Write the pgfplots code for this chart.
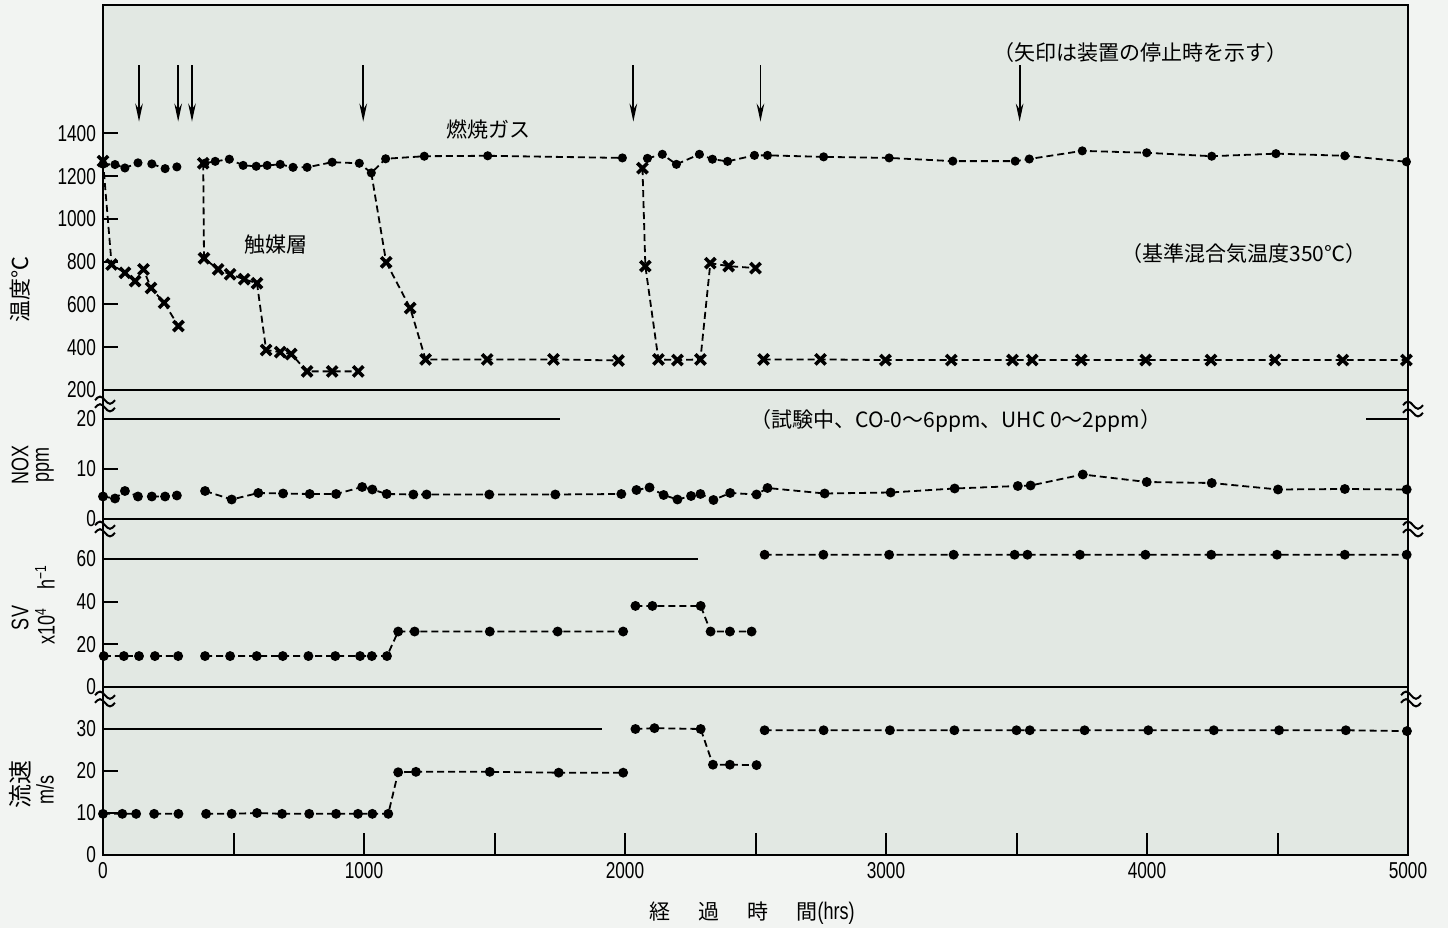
\documentclass[border=0pt]{standalone}
\usepackage{pgfplots}
\pgfplotsset{compat=1.18}
\usepackage{fontspec}
\setmainfont{Liberation Sans}
\newfontfamily\cnd{Liberation Sans}[FakeStretch=0.75]
\newfontfamily\cjk{Noto Sans CJK JP}
\usetikzlibrary{arrows.meta}
\definecolor{bgout}{RGB}{242,244,242}
\definecolor{bgin}{RGB}{226,232,227}
\tikzset{jp/.style={font=\cjk\fontsize{10.5}{12}\selectfont}}
\newcommand{\brk}[2]{\begin{scope}[shift={(#1pt,#2pt)}]
\draw[line width=1pt] (-5pt,2.4pt) sin (-2.5pt,4.2pt) cos (0pt,2.4pt) sin (2.5pt,0.6pt) cos (5pt,2.4pt);
\draw[line width=1pt] (-5pt,-1.4pt) sin (-2.5pt,0.4pt) cos (0pt,-1.4pt) sin (2.5pt,-3.2pt) cos (5pt,-1.4pt);
\end{scope}}
\begin{document}
\begin{tikzpicture}
\useasboundingbox (0pt,0pt) rectangle (724pt,464pt);
\fill[bgout] (0pt,0pt) rectangle (724pt,464pt);
\fill[bgin] (51.5pt,36.5pt) rectangle (704pt,461.5pt);
\pgfplotsset{
 panel/.style={scale only axis, width=652.5pt, xmin=0, xmax=5000, clip=false,
   axis line style={line width=1.2pt}, every tick/.style={black, line width=1pt},
   tick align=inside, tick pos=left, xtick=\empty, major tick length=7.5pt,
   yticklabel style={font=\cnd\fontsize{11.5}{12}\selectfont},
   xticklabel style={font=\cnd\fontsize{11.5}{12}\selectfont},
   /pgf/number format/1000 sep={}, /pgf/number format/assume math mode=true,
   unbounded coords=jump, anchor=south west},
 gas/.style={black, line width=0.9pt, dash pattern=on 3.5pt off 2pt, mark=*, mark size=1.8pt, mark options={solid}},
 cat/.style={black, line width=0.9pt, dash pattern=on 3.5pt off 2pt, mark=x, mark size=3.6pt, mark options={solid, line width=1.8pt}},
 dot/.style={black, line width=0.9pt, dash pattern=on 3.5pt off 2pt, mark=*, mark size=2pt, mark options={solid}},
}
% Panel 1: temperature
\begin{axis}[panel, at={(51.5pt,269pt)}, height=192.5pt, ymin=200, ymax=2000, ytick={200,400,...,1400}]
\addplot[gas] coordinates {(0,1256) (46,1254) (84,1238) (134,1262) (160,nan) (187,1257) (238,1235) (283,1243) (330,nan) (390,1260) (430,1269) (484,1279) (537,1250) (587,1246) (629,1250) (679,1255) (728,1241) (782,1241) (878,1265) (982,1260) (1028,1215) (1083,1281) (1231,1293) (1474,1295) (1990,1285) (2030,nan) (2086,1283) (2143,1302) (2197,1255) (2285,1302) (2335,1279) (2393,1269) (2496,1297) (2546,1297) (2761,1290) (3012,1285) (3256,1270) (3495,1270) (3549,1280) (3752,1318) (3999,1309) (4248,1293) (4494,1305) (4758,1295) (4994,1267)};
\addplot[black, line width=0.9pt, dash pattern=on 3.5pt off 2pt, no marks] coordinates {(1028,1215) (1085,797)};
\addplot[cat] coordinates {(0,1270) (33,787) (84,748) (123,709) (155,764) (184,677) (234,608) (289,499) (330,nan) (384,1260) (387,816) (441,764) (487,741) (541,718) (590,699) (625,387) (679,377) (721,368) (782,287) (878,287) (978,287) (1000,nan) (1085,797) (1177,583) (1236,343) (1472,343) (1726,343) (1975,338) (2030,nan) (2067,1237) (2078,779) (2128,343) (2201,340) (2289,343) (2327,793) (2397,779) (2500,770) (2520,nan) (2531,343) (2749,343) (2998,340) (3250,340) (3485,340) (3560,340) (3748,340) (3995,340) (4245,340) (4490,340) (4750,340) (4994,340)};
\foreach \t in {138,288,341,997,2032,2519,3512}{
  \edef\tmp{\noexpand\draw[-{Stealth[length=9pt,width=3.8pt]}, line width=0.9pt] (axis cs:\t,1719) -- (axis cs:\t,1455);}\tmp}
\node[jp] at (axis cs:1476,1416) {燃焼ガス};
\node[jp] at (axis cs:663,878) {触媒層};
\node[jp] at (axis cs:3976,1780) {（矢印は装置の停止時を示す）};
\node[jp] at (axis cs:4371,840) {（基準混合気温度350℃）};
\end{axis}
% Panel 2: NOX
\begin{axis}[panel, at={(51.5pt,204.5pt)}, height=64.5pt, ymin=0, ymax=25.8, ytick={0,10,20}]
\addplot[dot] coordinates {(0,4.5) (46,4.1) (84,5.6) (134,4.5) (160,nan) (187,4.5) (238,4.5) (283,4.7) (330,nan) (391,5.6) (493,3.9) (595,5.2) (690,5.1) (792,5.0) (893,5.0) (993,6.4) (1032,5.9) (1087,5.0) (1189,4.9) (1240,4.9) (1480,4.9) (1733,4.9) (1986,5.0) (2015,nan) (2044,5.8) (2094,6.3) (2148,4.8) (2201,3.9) (2253,4.6) (2289,5.0) (2339,3.8) (2403,5.2) (2504,4.9) (2546,6.2) (2765,5.1) (3018,5.3) (3263,6.1) (3505,6.6) (3554,6.7) (3754,8.9) (3999,7.4) (4248,7.2) (4502,5.9) (4758,6.0) (4995,5.9)};
\draw[line width=1.2pt] (axis cs:0,20) -- (axis cs:1752,20);
\draw[line width=1.2pt] (axis cs:4840,20) -- (axis cs:5000,20);
\node[jp] at (axis cs:3267,19.6) {（試験中、CO-0～6ppm、UHC 0～2ppm）};
\end{axis}
% Panel 3: SV
\begin{axis}[panel, at={(51.5pt,120.5pt)}, height=84pt, ymin=0, ymax=78.75, ytick={0,20,40,60}]
\addplot[dot] coordinates {(3,14.5) (80,14.5) (138,14.5) (160,nan) (199,14.5) (288,14.5) (330,nan) (391,14.5) (487,14.5) (589,14.5) (689,14.5) (787,14.5) (890,14.5) (985,14.5) (1030,14.5) (1088,14.5) (1131,26) (1194,26) (1482,26) (1742,26) (1993,26) (2015,nan) (2040,38) (2105,38) (2290,38) (2328,26) (2402,26) (2485,26) (2515,nan) (2535,62) (2760,62) (3012,62) (3259,62) (3493,62) (3542,62) (3743,62) (3994,62) (4246,62) (4498,62) (4758,62) (4995,62)};
\draw[line width=1.2pt] (axis cs:0,60) -- (axis cs:2280,60);
\end{axis}
% Panel 4: flow velocity
\begin{axis}[panel, at={(51.5pt,36.5pt)}, height=84pt, ymin=0, ymax=40, ytick={0,10,20,30},
  xtick={0,500,...,5000}, xticklabels={0,,1000,,2000,,3000,,4000,,5000},
  xtick style={/pgfplots/major tick length=11pt}]
\addplot[dot] coordinates {(0,9.8) (74,9.8) (127,9.8) (160,nan) (196,9.8) (289,9.8) (330,nan) (395,9.8) (493,9.8) (590,10.0) (686,9.8) (790,9.8) (893,9.8) (977,9.8) (1032,9.8) (1093,9.8) (1131,19.7) (1199,19.8) (1482,19.8) (1746,19.6) (1993,19.6) (2015,nan) (2040,30) (2113,30.2) (2290,30) (2337,21.5) (2402,21.5) (2504,21.4) (2520,nan) (2535,29.7) (2761,29.7) (3015,29.7) (3262,29.7) (3500,29.7) (3551,29.7) (3761,29.7) (4005,29.7) (4256,29.7) (4506,29.7) (4762,29.7) (4996,29.5)};
\draw[line width=1.2pt] (axis cs:0,30) -- (axis cs:1910,30);
\end{axis}
% axis break marks
\brk{52.5}{261.5}\brk{52.5}{199}\brk{52.5}{114}
\brk{706.5}{259}\brk{706.5}{199}\brk{705.5}{114}
% axis labels
\node[rotate=90, font=\cjk\fontsize{11}{12}\selectfont] at (10pt,319pt) {温度℃};
\node[rotate=90, font=\cnd\fontsize{12}{12}\selectfont] at (10pt,231.5pt) {NOX};
\node[rotate=90, font=\cnd\fontsize{12}{12}\selectfont] at (22.5pt,231.5pt) {ppm};
\node[rotate=90, font=\cnd\fontsize{12}{12}\selectfont] at (10pt,155pt) {SV};
\node[rotate=90, font=\cnd\fontsize{12}{12}\selectfont] at (22.5pt,161.5pt) {x10\textsuperscript{4}\hspace{9pt}h\textsuperscript{−1}};
\node[rotate=90, font=\cjk\fontsize{12}{13}\selectfont] at (10pt,71.5pt) {流速};
\node[rotate=90, font=\cnd\fontsize{12}{12}\selectfont] at (22.5pt,69pt) {m/s};
\node[font=\cjk\fontsize{10.5}{12}\selectfont] at (376pt,7.5pt) {経\hspace{14pt}過\hspace{14pt}時\hspace{14pt}間{\cnd\fontsize{12}{12}\selectfont(hrs)}};
\end{tikzpicture}
\end{document}
